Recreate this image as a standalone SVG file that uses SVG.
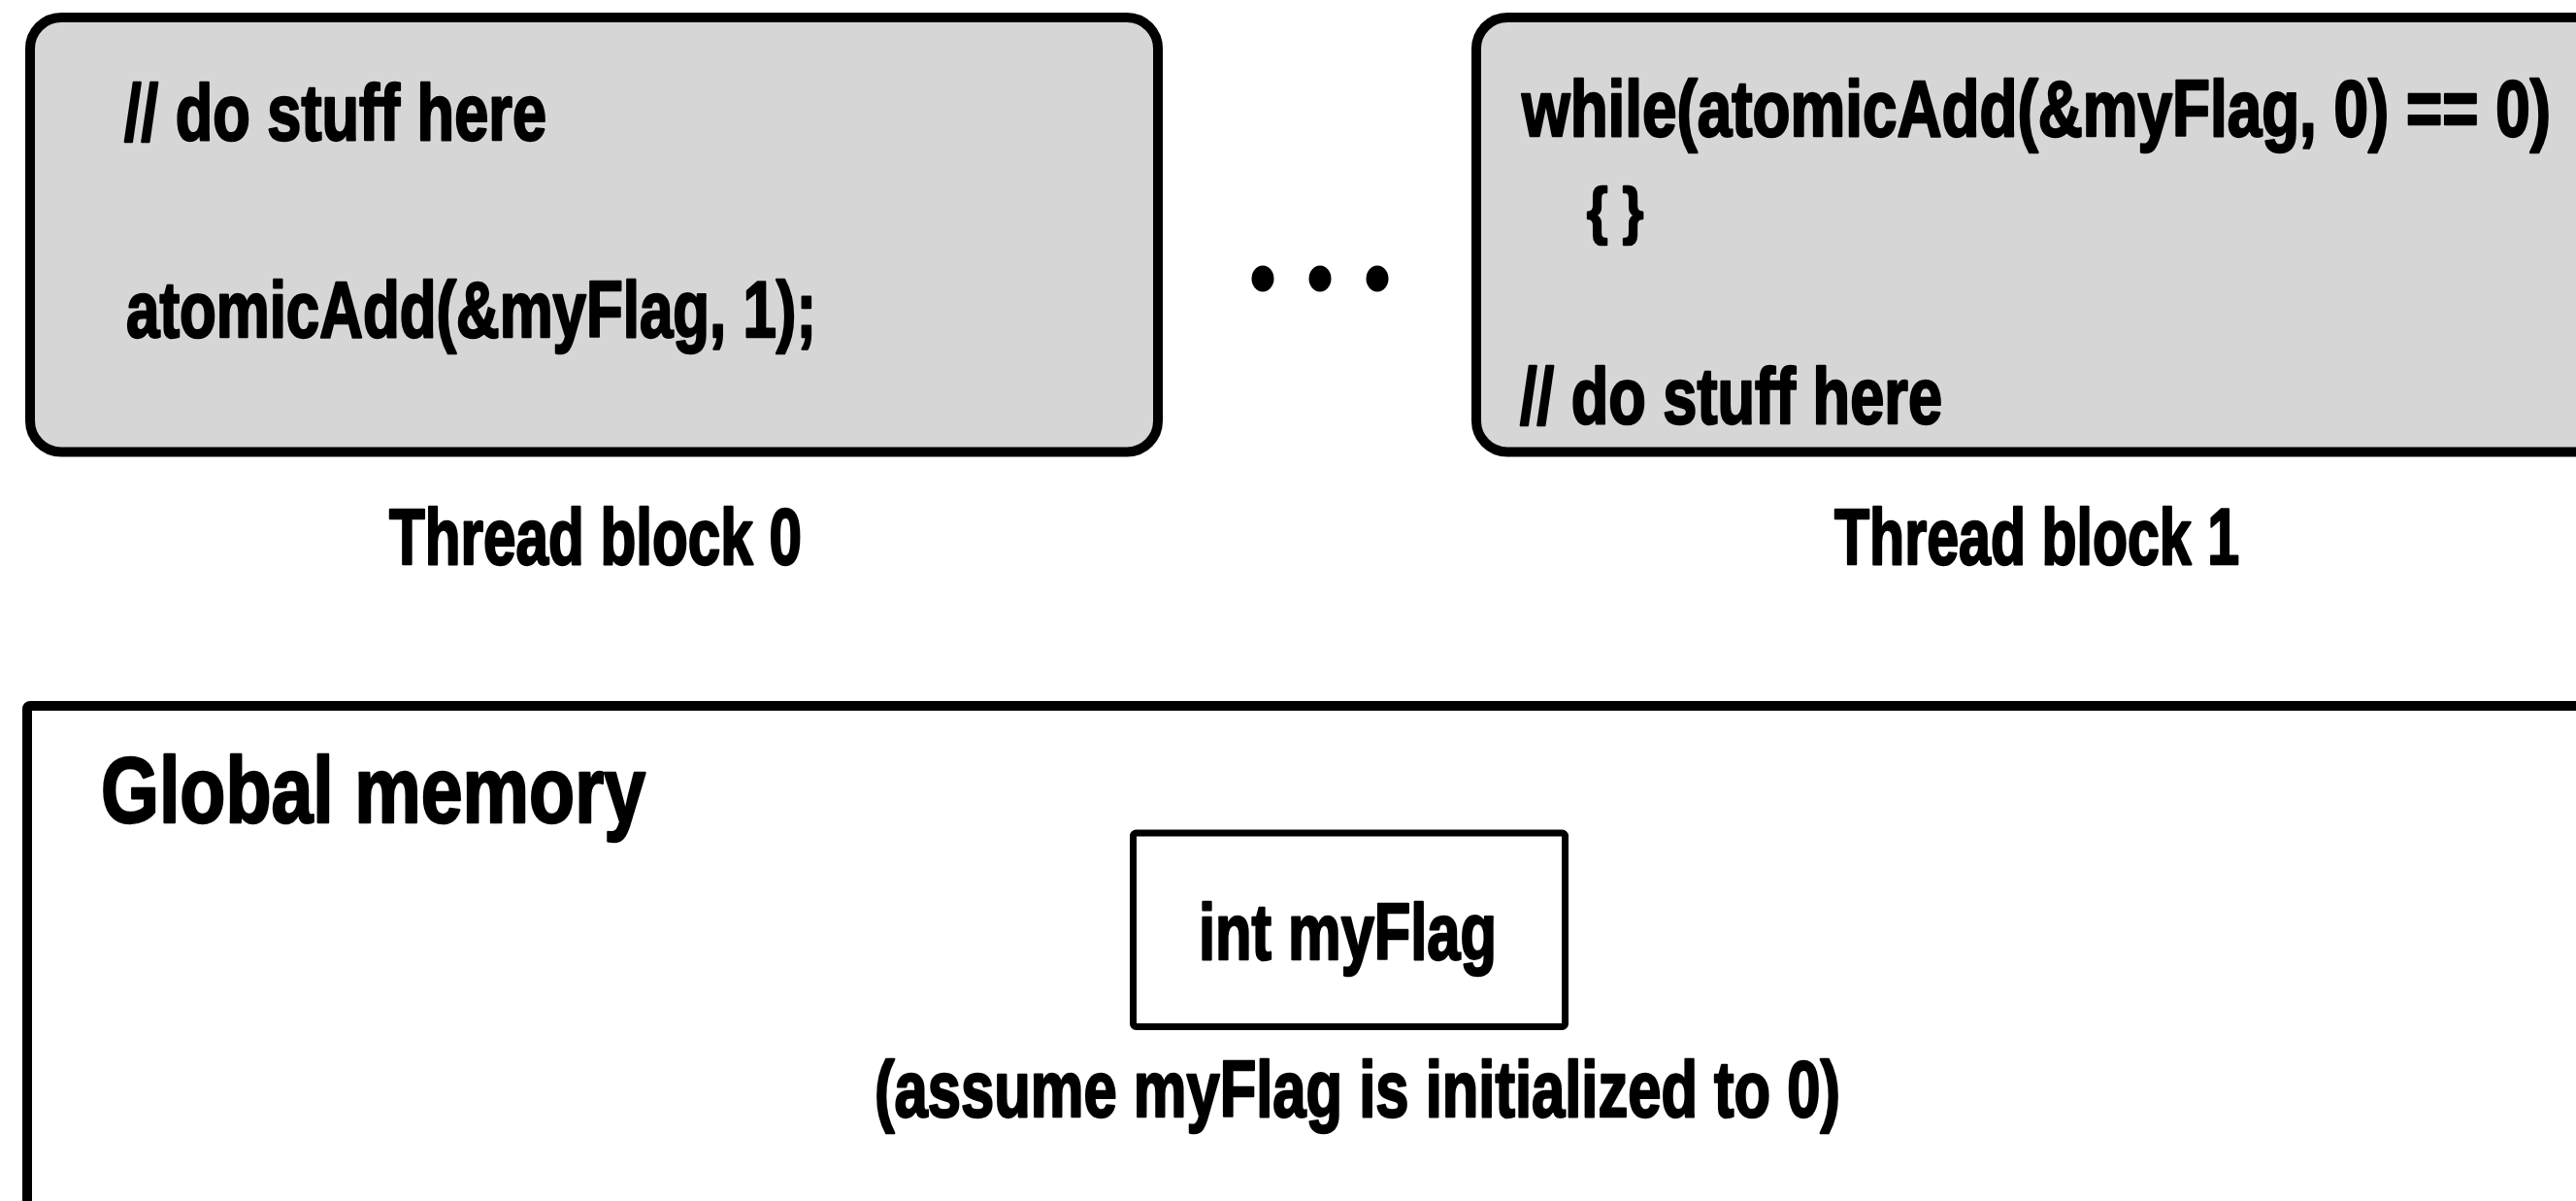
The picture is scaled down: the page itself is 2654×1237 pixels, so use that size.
<svg xmlns="http://www.w3.org/2000/svg" width="2654" height="1237" viewBox="0 0 2654 1237">
<style>
.t{font-family:"Liberation Sans",Arial,sans-serif;font-weight:bold;fill:#000;stroke:#000;stroke-width:2.5;stroke-linejoin:round}
.code{font-size:82px}
.lbl{font-size:82px}
.big{font-size:96px}
.blk{fill:#d6d6d6;stroke:#000;stroke-width:10}
.mem{fill:#fff;stroke:#000;stroke-width:10}
.var{fill:#fff;stroke:#000;stroke-width:7}
</style>
<rect width="2654" height="1237" fill="#fff"/>
<g id="global-memory">
<rect class="mem" x="28" y="727" width="2700" height="600" rx="3"/>
<text class="t big" x="104" y="847" textLength="561" lengthAdjust="spacingAndGlyphs">Global memory</text>
</g>
<g id="myflag">
<rect class="var" x="1167.5" y="858" width="445" height="199.5" rx="3"/>
<text class="t lbl" x="1235" y="988" textLength="307" lengthAdjust="spacingAndGlyphs">int myFlag</text>
<text class="t lbl" x="901" y="1150" textLength="995" lengthAdjust="spacingAndGlyphs">(assume myFlag is initialized to 0)</text>
</g>
<g id="block0">
<rect class="blk" x="31" y="18" width="1162" height="447.5" rx="32"/>
<text class="t code" x="128" y="144" textLength="435" lengthAdjust="spacingAndGlyphs">// do stuff here</text>
<text class="t code" x="130" y="347" textLength="711" lengthAdjust="spacingAndGlyphs">atomicAdd(&amp;myFlag, 1);</text>
<text class="t lbl" x="401" y="581" textLength="425" lengthAdjust="spacingAndGlyphs">Thread block 0</text>
</g>
<g id="ellipsis">
<ellipse cx="1301" cy="287" rx="11.5" ry="13.5"/>
<ellipse cx="1360" cy="287" rx="11.5" ry="13.5"/>
<ellipse cx="1419" cy="287" rx="11.5" ry="13.5"/>
</g>
<g id="block1">
<rect class="blk" x="1521" y="18" width="1200" height="447.5" rx="32"/>
<text class="t code" x="1568" y="140" textLength="1060" lengthAdjust="spacingAndGlyphs">while(atomicAdd(&amp;myFlag, 0) == 0)</text>
<text class="t" style="font-size:64px" x="1635" y="239" textLength="58" lengthAdjust="spacingAndGlyphs">{ }</text>
<text class="t code" x="1566" y="436" textLength="435" lengthAdjust="spacingAndGlyphs">// do stuff here</text>
<text class="t lbl" x="1890" y="581" textLength="417" lengthAdjust="spacingAndGlyphs">Thread block 1</text>
</g>
<g id="connectors"/>
</svg>
